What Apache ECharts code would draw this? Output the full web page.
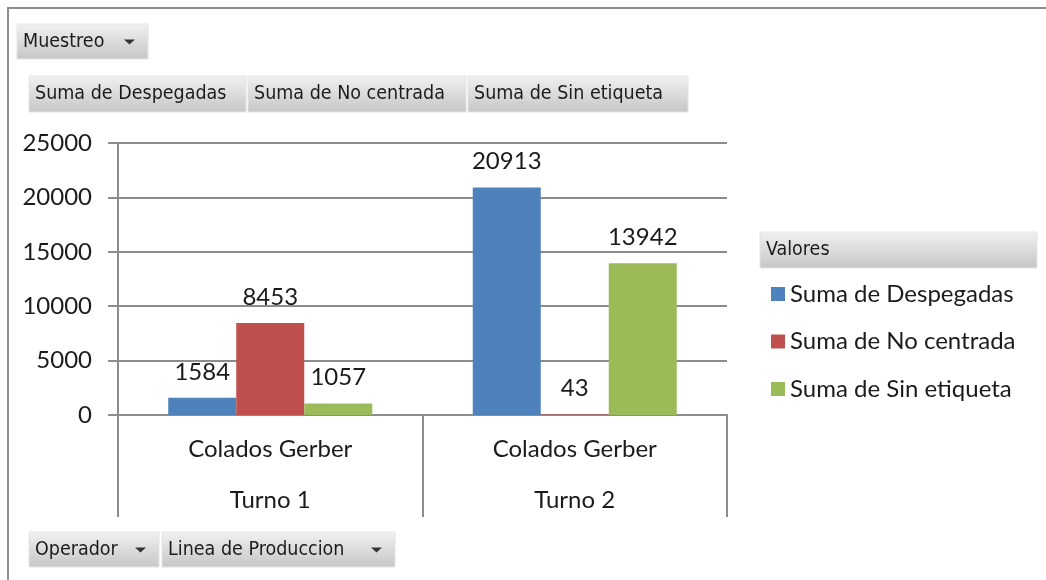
<!DOCTYPE html>
<html lang="es">
<head>
    <meta charset="UTF-8">
    <title>Muestreo</title>
    <style>
      html, body { margin: 0; padding: 0; background: #fff; }
    </style>
</head>
<body>
    <div id="main" style="width: 1046px; height: 580px;"></div>
    <script src="https://cdn.jsdelivr.net/npm/echarts@6/dist/echarts.min.js"></script>
    <script>
      // datos
      const lineas = ['Colados Gerber', 'Colados Gerber'];
      const turnos = ['Turno 1', 'Turno 2'];
      const seriesNames = ['Suma de Despegadas', 'Suma de No centrada', 'Suma de Sin etiqueta'];
      const despegadas = [1584, 20913];
      const noCentrada = [8453, 43];
      const sinEtiqueta = [1057, 13942];
      const yMin = 0, yMax = 25000, yStep = 5000;
      const colors = ['#4F81BD', '#C0504D', '#9BBB59'];

      const valueFont = 'Lato, "Open Sans", sans-serif';
      const btnFont = '"DejaVu Sans Condensed", "DejaVu Sans", sans-serif';

      var chartDom = document.getElementById('main');
      var myChart = echarts.init(chartDom);
      var option;

      function btnFill() {
        return new echarts.graphic.LinearGradient(0, 0, 0, 1, [
          { offset: 0, color: '#f1f1f1' },
          { offset: 1, color: '#c6c6c6' }
        ]);
      }

      // boton tipo tabla dinamica
      function button(x, y, w, h, text, arrow) {
        const els = [
          {
            type: 'rect',
            shape: { x: x, y: y, width: w, height: h },
            style: { fill: btnFill(), stroke: '#e4e4e4', lineWidth: 1 }
          },
          {
            type: 'text',
            style: {
              x: x + 6, y: y + h / 2, text: text,
              verticalAlign: 'middle', align: 'left',
              fontSize: 19.5, fontFamily: btnFont, fill: '#1b1b1b'
            }
          }
        ];
        if (arrow) {
          const ax = x + w - 24, ay = y + h / 2 - 2;
          els.push({
            type: 'polygon',
            shape: { points: [[ax, ay], [ax + 11, ay], [ax + 5.5, ay + 5]] },
            style: { fill: '#333' }
          });
        }
        return els;
      }

      const categories = lineas.map(function (l, i) { return l + '\n' + turnos[i]; });
      const seriesData = [despegadas, noCentrada, sinEtiqueta];

      const graphics = [].concat(
        [{
          type: 'rect',
          shape: { x: 8, y: 8, width: 1100, height: 640 },
          style: { fill: 'none', stroke: '#8d8d8d', lineWidth: 2 },
          z: 0
        }],
        button(17, 24, 131, 35, 'Muestreo', true),
        button(29, 76, 217, 36, seriesNames[0], false),
        button(248, 76, 218, 36, seriesNames[1], false),
        button(468, 76, 220, 36, seriesNames[2], false),
        button(29, 532, 130, 35, 'Operador', true),
        button(162, 532, 233, 35, 'Linea de Produccion', true),
        button(760, 232, 277, 36, 'Valores', false)
      );

      option = {
        animation: false,
        color: colors,
        graphic: { elements: graphics },
        legend: {
          data: seriesNames,
          orient: 'vertical',
          left: 771,
          top: 282,
          padding: 0,
          itemWidth: 14,
          itemHeight: 14,
          itemGap: 23.5,
          icon: 'rect',
          textStyle: { fontSize: 24, fontFamily: valueFont, color: '#1b1b1b' }
        },
        grid: { left: 118, right: 319, top: 143, bottom: 165 },
        xAxis: {
          type: 'category',
          data: categories,
          axisLine: { show: true, lineStyle: { color: '#8c8c8c', width: 2 } },
          axisTick: { show: true, interval: 0, length: 102, lineStyle: { color: '#8c8c8c', width: 2 } },
          axisLabel: {
            interval: 0, margin: 9, lineHeight: 51,
            fontSize: 24, fontFamily: valueFont, color: '#1b1b1b'
          }
        },
        yAxis: {
          type: 'value',
          min: yMin, max: yMax, interval: yStep,
          axisLine: { show: true, lineStyle: { color: '#8c8c8c', width: 2 } },
          axisTick: { show: true, length: 10, lineStyle: { color: '#8c8c8c', width: 2 } },
          axisLabel: {
            margin: 26, fontSize: 24, fontFamily: valueFont, color: '#1b1b1b',
            formatter: function (v) { return String(v); }
          },
          splitLine: { show: true, lineStyle: { color: '#8c8c8c', width: 2 } }
        },
        series: seriesNames.map(function (name, i) {
          return {
            name: name,
            type: 'bar',
            barGap: 0,
            barCategoryGap: '33%',
            data: seriesData[i],
            label: {
              show: true, position: 'top', distance: 14,
              fontSize: 24, fontFamily: valueFont, color: '#1b1b1b'
            }
          };
        })
      };

      option && myChart.setOption(option);
    </script>
</body>
</html>
